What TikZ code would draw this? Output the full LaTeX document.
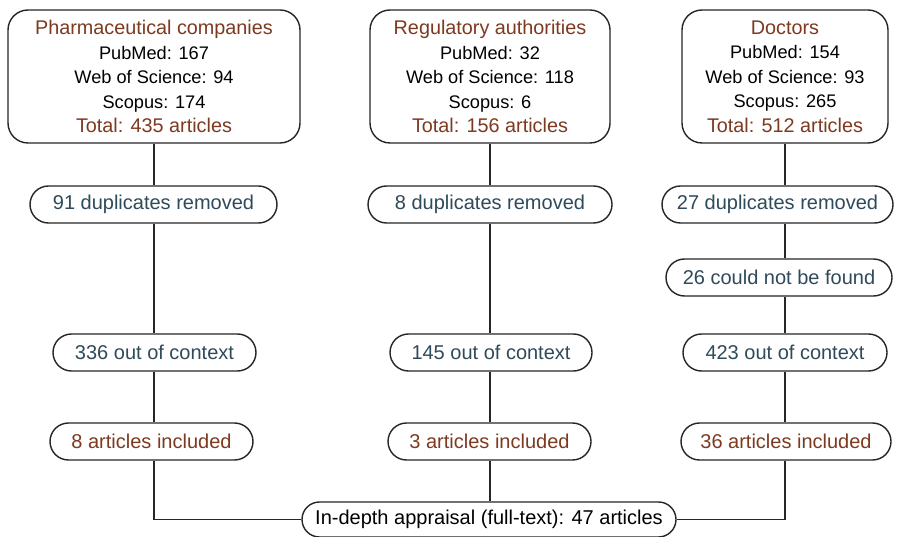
\documentclass[tikz,border=0pt]{standalone}
\usepackage{fontspec}
\setmainfont{Liberation Sans}
\definecolor{brn}{HTML}{7E3A20}
\definecolor{slt}{HTML}{2F4A5A}
\newcommand{\ttl}{\fontsize{19.8}{24.5}\selectfont\color{brn}}
\begin{document}
\begin{tikzpicture}[x=1pt,y=-1pt,
  bigbox/.style={draw=black!85,line width=1.4pt,rounded corners=20pt,inner sep=0pt,align=center,
     font=\fontsize{18.2}{24.5}\selectfont},
  pill/.style={draw=black!85,line width=1.4pt,rounded corners=18.5pt,inner sep=0pt,minimum height=37pt,
     font=\fontsize{20}{22}\selectfont},
  grey/.style={pill,text=slt},
  brown/.style={pill,text=brn},
  conn/.style={draw=black!85,line width=1.4pt}]
\useasboundingbox (0,0) rectangle (900,537);
\fill[white] (0,0) rectangle (900,537);
% top boxes
\node[bigbox,minimum width=292pt,minimum height=133pt] (t1) at (154,76.5)
  {{\ttl Pharmaceutical companies}\\PubMed: 167\\Web of Science: 94\\Scopus: 174\\{\ttl Total: 435 articles}};
\node[bigbox,minimum width=240pt,minimum height=133pt] (t2) at (490,76.5)
  {{\ttl Regulatory authorities}\\PubMed: 32\\Web of Science: 118\\Scopus: 6\\{\ttl Total: 156 articles}};
\node[bigbox,minimum width=206pt,minimum height=133pt] (t3) at (785,76.5)
  {{\ttl Doctors}\\PubMed: 154\\Web of Science: 93\\Scopus: 265\\{\ttl Total: 512 articles}};
% duplicates
\node[grey,minimum width=247pt] (d1) at (153.5,204.5) {91 duplicates removed};
\node[grey,minimum width=244pt] (d2) at (490,204.5) {8 duplicates removed};
\node[grey,minimum width=231pt] (d3) at (777.5,204.5) {27 duplicates removed};
\node[grey,minimum width=226pt] (nf) at (779,277.5) {26 could not be found};
% out of context
\node[grey,minimum width=203pt] (o1) at (154.5,352.5) {336 out of context};
\node[grey,minimum width=202pt] (o2) at (491,352.5) {145 out of context};
\node[grey,minimum width=204pt] (o3) at (785,352.5) {423 out of context};
% included
\node[brown,minimum width=203pt] (i1) at (151.5,441.5) {8 articles included};
\node[brown,minimum width=203pt] (i2) at (489.5,441.5) {3 articles included};
\node[brown,minimum width=210pt] (i3) at (786,441.5) {36 articles included};
% final
\node[pill,minimum width=374pt,minimum height=35pt,rounded corners=17.5pt] (f) at (489,519.5) {In-depth appraisal (full-text): 47 articles};
% connectors
\draw[conn] (t1.south -| 154,0) -- (d1.north -| 154,0);
\draw[conn] (d1.south -| 154,0) -- (o1.north -| 154,0);
\draw[conn] (o1.south -| 154,0) -- (i1.north -| 154,0);
\draw[conn] (i1.south -| 154,0) |- (f.west);
\draw[conn] (t2.south) -- (d2.north);
\draw[conn] (d2.south) -- (o2.north -| d2.south);
\draw[conn] (o2.south -| d2.south) -- (i2.north -| d2.south);
\draw[conn] (i2.south -| d2.south) -- (f.north -| d2.south);
\draw[conn] (t3.south) -- (d3.north -| t3.south);
\draw[conn] (d3.south -| t3.south) -- (nf.north -| t3.south);
\draw[conn] (nf.south -| t3.south) -- (o3.north -| t3.south);
\draw[conn] (o3.south -| t3.south) -- (i3.north -| t3.south);
\draw[conn] (i3.south -| t3.south) |- (f.east);
\end{tikzpicture}
\end{document}
